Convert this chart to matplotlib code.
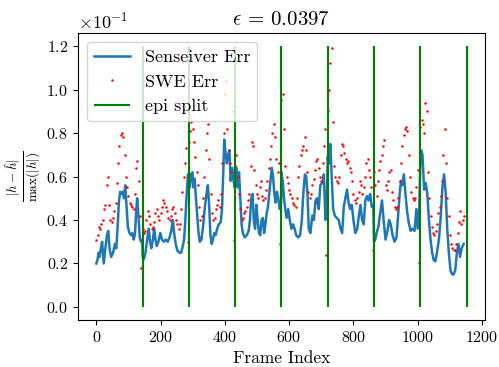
import numpy as np
import matplotlib
matplotlib.use('Agg')
import matplotlib.pyplot as plt

plt.rcParams.update({
    'font.family': 'serif',
    'font.serif': ['cmr10'],
    'mathtext.fontset': 'cm',
    'axes.formatter.use_mathtext': True,
    'font.size': 11.5,
})

# episode boundaries
epi_splits = [144, 288, 432, 576, 720, 864, 1008, 1152]

# Senseiver error, read at the turning points of the curve
blue_frames = [
    0, 4, 7, 10, 14, 18, 23, 28, 33, 37, 41, 46, 52, 58, 62, 66, 70, 74, 78, 82, 86, 90, 94, 98,
    103, 108, 112, 116, 120, 124, 127, 131, 135, 139, 143,
    144, 148, 153, 158, 163, 167, 171, 176, 180, 184, 188, 193, 199, 204, 210, 216, 222, 228,
    233, 238, 242, 247, 252, 258, 264, 269, 273, 277, 281, 285,
    288, 291, 295, 299, 302, 306, 310, 314, 318, 322, 327, 332, 337, 342, 347, 351, 355, 359,
    363, 367, 371, 376, 381, 387, 391, 395, 398, 402, 406, 410, 414, 418, 423, 427, 431,
    432, 436, 440, 444, 448, 452, 456, 462, 468, 474, 478, 482, 486, 490, 494, 498, 502, 506,
    510, 514, 518, 522, 526, 530, 534, 540, 546, 550, 554, 558, 562, 566, 571, 575,
    576, 580, 584, 588, 592, 597, 602, 607, 612, 617, 622, 628, 634, 639, 644, 649, 653, 657,
    661, 666, 672, 677, 682, 687, 692, 697, 703, 708, 713, 717,
    720, 724, 728, 732, 737, 742, 748, 754, 760, 765, 770, 775, 780, 785, 790, 795, 800, 806,
    812, 817, 822, 827, 832, 837, 842, 847, 852, 857, 862,
    864, 868, 872, 878, 884, 889, 894, 900, 906, 911, 916, 922, 928, 934, 939, 944, 948, 952,
    957, 962, 967, 972, 978, 984, 990, 996, 1000, 1005,
    1008, 1011, 1015, 1020, 1025, 1030, 1035, 1040, 1045, 1050, 1055, 1060, 1066, 1071, 1077,
    1082, 1087, 1092, 1097, 1102, 1107, 1112, 1117, 1122, 1127, 1132, 1137, 1143,
]
blue_err = [
    0.020, 0.022, 0.025, 0.023, 0.027, 0.030, 0.020, 0.027, 0.033, 0.035, 0.027, 0.023, 0.025,
    0.029, 0.027, 0.036, 0.048, 0.053, 0.052, 0.053, 0.050, 0.056, 0.046, 0.037, 0.034, 0.033,
    0.034, 0.031, 0.033, 0.044, 0.050, 0.042, 0.032, 0.030, 0.031,
    0.023, 0.022, 0.025, 0.031, 0.036, 0.030, 0.027, 0.031, 0.036, 0.031, 0.028, 0.030, 0.034,
    0.031, 0.030, 0.031, 0.030, 0.032, 0.035, 0.040, 0.034, 0.029, 0.026, 0.025, 0.025, 0.028,
    0.031, 0.040, 0.052, 0.061,
    0.060, 0.055, 0.061, 0.062, 0.055, 0.059, 0.050, 0.042, 0.034, 0.030, 0.031, 0.037, 0.045,
    0.051, 0.056, 0.047, 0.033, 0.029, 0.031, 0.034, 0.033, 0.036, 0.038, 0.039, 0.045, 0.062,
    0.077, 0.071, 0.066, 0.070, 0.072, 0.058, 0.064, 0.058, 0.055,
    0.062, 0.064, 0.055, 0.062, 0.050, 0.038, 0.034, 0.032, 0.033, 0.035, 0.040, 0.050, 0.052,
    0.040, 0.036, 0.047, 0.040, 0.034, 0.033, 0.040, 0.041, 0.034, 0.038, 0.043, 0.046, 0.055,
    0.064, 0.060, 0.052, 0.048, 0.053, 0.050, 0.045, 0.048,
    0.062, 0.058, 0.050, 0.045, 0.041, 0.045, 0.040, 0.036, 0.038, 0.036, 0.033, 0.032, 0.033,
    0.039, 0.052, 0.061, 0.060, 0.052, 0.036, 0.034, 0.042, 0.040, 0.049, 0.050, 0.045, 0.056,
    0.057, 0.061, 0.040, 0.046,
    0.069, 0.066, 0.075, 0.062, 0.045, 0.042, 0.041, 0.040, 0.036, 0.034, 0.046, 0.050, 0.054,
    0.048, 0.045, 0.047, 0.040, 0.034, 0.036, 0.042, 0.047, 0.040, 0.038, 0.049, 0.051, 0.049,
    0.052, 0.046, 0.047,
    0.030, 0.031, 0.034, 0.037, 0.044, 0.049, 0.040, 0.031, 0.035, 0.040, 0.038, 0.033, 0.030,
    0.032, 0.042, 0.052, 0.058, 0.056, 0.061, 0.052, 0.044, 0.039, 0.035, 0.036, 0.035, 0.045,
    0.036, 0.046,
    0.065, 0.072, 0.070, 0.054, 0.057, 0.052, 0.040, 0.031, 0.025, 0.0215, 0.021, 0.025, 0.031,
    0.040, 0.055, 0.061, 0.053, 0.036, 0.025, 0.017, 0.015, 0.015, 0.017, 0.025, 0.029, 0.023,
    0.027, 0.029,
]

# SWE error, every 4th frame
swe_frames = np.arange(0, 1148, 4)
swe_err = [
    0.031, 0.033, 0.037, 0.036, 0.038, 0.040, 0.045, 0.047, 0.056, 0.060, 0.047, 0.040, 0.039,
    0.041, 0.044, 0.048, 0.057, 0.066, 0.074, 0.079, 0.080, 0.078, 0.070, 0.060, 0.055, 0.051,
    0.048, 0.047, 0.046, 0.045, 0.052, 0.064, 0.067, 0.058, 0.042, 0.018,
    0.036, 0.034, 0.035, 0.040, 0.044, 0.042, 0.038, 0.036, 0.037, 0.039, 0.043, 0.045, 0.042,
    0.040, 0.043, 0.046, 0.049, 0.048, 0.046, 0.044, 0.041, 0.040, 0.042, 0.045, 0.046, 0.043,
    0.040, 0.038, 0.036, 0.038, 0.045, 0.053, 0.060, 0.066, 0.073, 0.030,
    0.076, 0.081, 0.085, 0.082, 0.076, 0.069, 0.062, 0.056, 0.046, 0.040, 0.042, 0.050, 0.060,
    0.072, 0.080, 0.084, 0.068, 0.052, 0.043, 0.040, 0.041, 0.045, 0.047, 0.049, 0.046, 0.052,
    0.066, 0.080, 0.098, 0.104, 0.082, 0.072, 0.066, 0.062, 0.090, 0.031,
    0.065, 0.070, 0.060, 0.052, 0.045, 0.040, 0.041, 0.043, 0.044, 0.046, 0.049, 0.052, 0.065,
    0.076, 0.074, 0.063, 0.056, 0.052, 0.050, 0.055, 0.058, 0.051, 0.049, 0.050, 0.054, 0.058,
    0.064, 0.068, 0.074, 0.080, 0.084, 0.078, 0.068, 0.062, 0.066, 0.029,
    0.095, 0.098, 0.082, 0.065, 0.060, 0.057, 0.054, 0.052, 0.050, 0.048, 0.047, 0.046, 0.050,
    0.060, 0.065, 0.070, 0.072, 0.074, 0.078, 0.072, 0.062, 0.053, 0.050, 0.052, 0.056, 0.059,
    0.063, 0.067, 0.068, 0.064, 0.060, 0.058, 0.066, 0.074, 0.082, 0.024,
    0.090, 0.100, 0.112, 0.119, 0.085, 0.065, 0.060, 0.058, 0.057, 0.060, 0.070, 0.075, 0.074,
    0.071, 0.068, 0.066, 0.067, 0.064, 0.062, 0.058, 0.052, 0.049, 0.048, 0.050, 0.053, 0.058,
    0.056, 0.052, 0.055, 0.060, 0.066, 0.068, 0.063, 0.060, 0.055, 0.026,
    0.062, 0.056, 0.051, 0.058, 0.063, 0.067, 0.070, 0.074, 0.077, 0.056, 0.054, 0.058, 0.062,
    0.063, 0.053, 0.049, 0.046, 0.045, 0.046, 0.050, 0.058, 0.066, 0.074, 0.079, 0.082, 0.083,
    0.081, 0.070, 0.060, 0.053, 0.050, 0.049, 0.050, 0.055, 0.063, 0.020,
    0.083, 0.086, 0.084, 0.080, 0.094, 0.090, 0.062, 0.050, 0.042, 0.037, 0.034, 0.033, 0.035,
    0.038, 0.043, 0.046, 0.051, 0.058, 0.070, 0.082, 0.066, 0.050, 0.042, 0.033, 0.029, 0.027,
    0.026, 0.026, 0.029, 0.034, 0.039, 0.044, 0.038, 0.040, 0.042,
]

fig, ax = plt.subplots(figsize=(4.99, 3.67), dpi=100)
ax.plot(blue_frames, blue_err, color='C0', lw=1.8, label='Senseiver Err')
ax.plot(swe_frames, swe_err, '.', color='red', ms=1.6, label='SWE Err')
ax.vlines(epi_splits, 0, 0.12, colors='g', lw=1.5, label='epi split')

ax.ticklabel_format(axis='y', style='sci', scilimits=(0, 0))
ax.yaxis.get_offset_text().set_fontsize(13)
ax.set_title(r'$\epsilon$ = 0.0397', fontsize=15)
ax.set_xlabel('Frame Index', fontsize=12.5)
ax.set_ylabel(r'$\frac{|h-\hat{h}|}{\max(|h|)}$', fontsize=13.5, labelpad=2)
ax.legend(loc='upper left', fontsize=13, handlelength=2.0)

fig.subplots_adjust(left=0.156, right=0.972, bottom=0.128, top=0.91)
fig.savefig('out.png')
